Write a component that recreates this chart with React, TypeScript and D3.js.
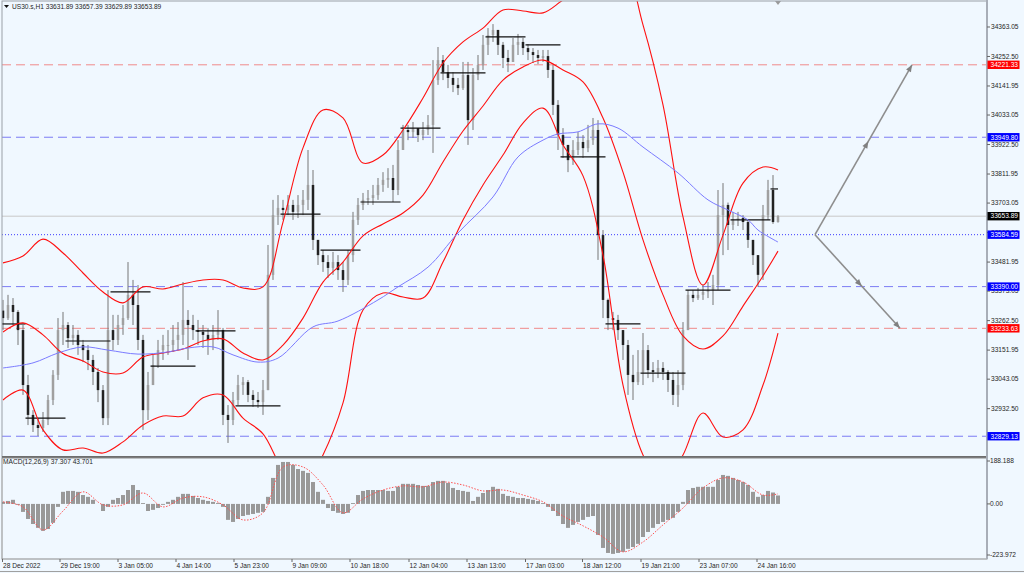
import React, { useEffect, useRef } from 'react';
import * as d3 from 'd3';

// header
const symbolName = 'US30.s,H1';
const lastOHLC = [33631.89, 33657.39, 33629.89, 33653.89];
const macdTitle = 'MACD(12,26,9) 37.307 43.701';

// candles (open of each bar = previous close)
const firstOpen = 33300;
const closes = [
  33272, 33321, 33295, 33227, 33021, 32909, 32871, 32860, 32890, 32965,
  33059, 33227, 33246, 33197, 33209, 33171, 33152, 33115, 33070, 33002,
  32897, 33227, 33190, 33246, 33272, 33359, 33321, 33190, 32927, 33021,
  33096, 33152, 33171, 33171, 33190, 33209, 33265, 33246, 33227, 33220,
  33209, 33190, 33209, 33227, 32909, 32890, 32965, 33021, 33032, 32984,
  32965, 32957, 33002, 33434, 33658, 33685, 33677, 33696, 33670, 33696,
  33715, 33771, 33565, 33508, 33482, 33460, 33482, 33452, 33415, 33508,
  33640, 33696, 33715, 33722, 33733, 33771, 33790, 33797, 33752, 33902,
  33977, 33969, 33984, 33958, 33977, 33996, 34164, 34239, 34194, 34172,
  34146, 34134, 34183, 34014, 34183, 34221, 34296, 34333, 34352, 34296,
  34247, 34232, 34296, 34307, 34284, 34269, 34258, 34247, 34254, 34202,
  34071, 33958, 33921, 33864, 33902, 33932, 33909, 33939, 33977, 33583,
  33340, 33272, 33265, 33227, 33171, 33059, 33032, 33070, 33152, 33077,
  33070, 33085, 33070, 33040, 32984, 33021, 33227, 33359, 33347, 33359,
  33370, 33377, 33396, 33658, 33696, 33621, 33640, 33647, 33632, 33565,
  33508, 33434, 33658, 33752, 33631.89, 33653.89,
];
const highs = [
  33340, 33359, 33347, 33302, 33246, 33059, 32927, 32897, 32920, 32984,
  33077, 33272, 33295, 33257, 33246, 33227, 33190, 33171, 33134, 33085,
  33021, 33377, 33284, 33284, 33321, 33482, 33415, 33396, 33209, 33070,
  33134, 33190, 33209, 33227, 33246, 33257, 33407, 33302, 33284, 33265,
  33246, 33235, 33246, 33302, 33235, 32946, 32995, 33059, 33051, 33040,
  33002, 32995, 33040, 33546, 33715, 33733, 33715, 33733, 33715, 33733,
  33752, 33902, 33827, 33565, 33527, 33508, 33520, 33508, 33482, 33527,
  33670, 33722, 33741, 33752, 33771, 33797, 33819, 33834, 33846, 33939,
  33996, 33996, 34007, 33984, 34007, 34033, 34239, 34288, 34258, 34221,
  34194, 34172, 34232, 34232, 34209, 34258, 34333, 34359, 34374, 34352,
  34307, 34277, 34322, 34337, 34322, 34299, 34284, 34277, 34277, 34277,
  34221, 34089, 33984, 33921, 33939, 33969, 33958, 33996, 34022, 34014,
  33602, 33345, 33295, 33284, 33227, 33190, 33134, 33152, 33216, 33171,
  33107, 33115, 33107, 33077, 33070, 33077, 33257, 33377, 33377, 33385,
  33396, 33407, 33434, 33752, 33778, 33705, 33670, 33670, 33658, 33640,
  33565, 33508, 33696, 33790, 33808, 33657.39,
];
const lows = [
  33227, 33265, 33246, 33171, 32984, 32871, 32845, 32830, 32845, 32871,
  32946, 33040, 33171, 33160, 33171, 33134, 33107, 33077, 33021, 32957,
  32871, 32871, 33152, 33171, 33209, 33265, 33246, 33152, 32853, 32890,
  33021, 33085, 33115, 33134, 33145, 33152, 33171, 33115, 33190, 33171,
  33160, 33134, 33152, 33190, 32871, 32804, 32871, 32946, 32984, 32957,
  32939, 32935, 32909, 33002, 33415, 33621, 33640, 33658, 33640, 33647,
  33658, 33677, 33527, 33471, 33445, 33422, 33434, 33415, 33370, 33396,
  33482, 33621, 33677, 33696, 33696, 33715, 33745, 33760, 33707, 33733,
  33902, 33939, 33947, 33932, 33939, 33958, 33891, 34146, 34164, 34134,
  34119, 34108, 34127, 33921, 33977, 34164, 34202, 34258, 34307, 34258,
  34209, 34194, 34232, 34258, 34258, 34239, 34228, 34224, 34232, 34172,
  34033, 33902, 33872, 33819, 33846, 33883, 33872, 33894, 33921, 33490,
  33272, 33227, 33227, 33190, 33115, 32984, 32965, 33021, 33021, 33047,
  33032, 33047, 33040, 32995, 32946, 32939, 33002, 33227, 33332, 33340,
  33340, 33347, 33321, 33377, 33508, 33527, 33602, 33617, 33602, 33535,
  33471, 33389, 33415, 33640, 33625, 33629.89,
];

// Bollinger bands, read every 4 bars
const bandBars = [
  0, 4, 8, 12, 16, 20, 24, 28, 32, 36, 40, 44, 48, 52, 56, 60, 64, 68, 72, 76,
  80, 84, 88, 92, 96, 100, 104, 108, 112, 116, 120, 124, 128, 132, 136, 140, 144, 148, 152, 155,
];
const bbUpper = [
  33479, 33505, 33568, 33516, 33441, 33370, 33329, 33389, 33381, 33400,
  33415, 33415, 33385, 33389, 33632, 33910, 34052, 34022, 33853, 33883,
  33977, 34097, 34228, 34307, 34359, 34427, 34423, 34416, 34464, 34509,
  34539, 34595, 34371, 34071, 33651, 33396, 33583, 33778, 33838, 33827,
];
const bbMiddle = [
  33220, 33254, 33209, 33139, 33111, 33070, 33066, 33126, 33141, 33156,
  33186, 33194, 33141, 33115, 33171, 33272, 33407, 33482, 33580, 33625,
  33666, 33733, 33857, 33973, 34067, 34164, 34213, 34239, 34202, 34157,
  34022, 33819, 33565, 33359, 33205, 33156, 33205, 33317, 33430, 33523,
];
const bbLower = [
  32965, 33002, 32853, 32778, 32785, 32766, 32808, 32871, 32905, 32905,
  32973, 32984, 32897, 32838, 32703, 32635, 32759, 32954, 33302, 33366,
  33351, 33347, 33482, 33640, 33771, 33883, 34003, 34059, 33921, 33805,
  33508, 33021, 32759, 32646, 32759, 32916, 32826, 32853, 33021, 33216,
];

// slow moving average (blue)
const maBars = [0, 6, 11, 16, 21, 27, 33, 37, 42, 46, 51, 55, 62, 67, 75, 79, 85, 91, 98, 103, 108, 111, 115, 119, 123, 128, 135, 141, 145, 149, 151, 155];
const maValues = [33085, 33104, 33141, 33164, 33152, 33137, 33145, 33160, 33164, 33134, 33107, 33122, 33239, 33261, 33340, 33389, 33463, 33591, 33726, 33876, 33939, 33962, 33970, 34000, 33984, 33913, 33816, 33715, 33677, 33640, 33602, 33557];

// MACD histogram per bar and signal read every 4 bars
const macdHist = [
  9, 13, 18, -4, -35, -66, -88, -105, -118, -110,
  -83, -13, 53, 57, 57, 53, 39, 31, 18, 0,
  -31, -13, 18, 26, 39, 61, 83, 61, 4, -31,
  -26, -18, -4, 9, 18, 31, 44, 44, 35, 26,
  18, 13, 9, 4, -13, -70, -79, -66, -53, -48,
  -44, -39, -35, 31, 114, 171, 184, 184, 171, 153,
  145, 136, 96, 53, 18, -18, -31, -39, -44, -39,
  4, 39, 57, 61, 61, 61, 61, 57, 57, 75,
  88, 88, 88, 83, 79, 79, 96, 101, 101, 92,
  70, 61, 57, 53, 13, 31, 48, 61, 75, 66,
  44, 35, 31, 26, 26, 22, 18, 13, 4, -13,
  -31, -53, -88, -105, -92, -79, -70, -57, -53, -136,
  -193, -215, -219, -215, -210, -197, -189, -175, -145, -123,
  -105, -88, -79, -70, -61, -35, 9, 61, 70, 75,
  75, 75, 75, 105, 127, 123, 114, 105, 96, 83,
  53, 31, 39, 57, 50, 37,
];
const signalValues = [
  9, -13, -114, -31, 53, -4, -4, 48, -13, 26,
  31, -4, -70, -39, 162, 162, 83, -39, 22, 61,
  79, 75, 96, 83, 57, 61, 39, 9, -53, -96,
  -145, -210, -167, -92, -18, 70, 114, 96, 39, 44,
];

// daily open segments
const dayStartBars = [0, 5, 13, 22, 30, 39, 47, 56, 64, 72, 80, 88, 97, 105, 112, 121, 128, 137, 146, 154];
const dayOpens = [33250, 32897, 33186, 33370, 33092, 33224, 32943, 33662, 33527, 33707, 33984, 34191, 34326, 34296, 33876, 33250, 33066, 33377, 33640, 33756];

// horizontal levels
const levelPrices = [34221.33, 33949.8, 33584.59, 33390.0, 33233.63, 32829.13];
const levelColors = ['red', 'blue', 'blue', 'blue', 'red', 'blue'];
const levelStyles = ['dash', 'dash', 'dot', 'dash', 'dash', 'dash'];
const bidPrice = 33653.89;

// projection arrows
const arrowFrom = { bar: 162.4, price: 33584.59 };
const arrowTargets = [
  { bar: 181.8, price: 34221.33 },
  { bar: 179.4, price: 33233.63 },
];

// axes
const priceTicks = [34363.05, 34252.5, 34141.95, 34033.05, 33922.5, 33811.95, 33703.05, 33592.5, 33481.95, 33373.05, 33262.5, 33151.95, 33043.05, 32932.5];
const macdTicks = [188.188, 0, -223.972];
const timeTickBars = [-0.2, 11.4, 23, 34.6, 46.2, 57.8, 69.4, 81.2, 92.8, 104.5, 115.9, 127.6, 139.2, 150.8];
const timeTickLabels = ['28 Dec 2022', '29 Dec 19:00', '3 Jan 05:00', '4 Jan 14:00', '5 Jan 23:00', '9 Jan 09:00', '10 Jan 18:00', '12 Jan 04:00', '13 Jan 13:00', '17 Jan 03:00', '18 Jan 12:00', '19 Jan 21:00', '23 Jan 07:00', '24 Jan 16:00'];

const width = 1024,
      height = 573;
const axisX = 987;
const font = '"Liberation Sans", Arial, sans-serif';

const App = () => {
  const svgRef = useRef<SVGSVGElement>(null);

  useEffect(() => {
    const svg = d3.select(svgRef.current);
    svg.selectAll('*').remove();

    const x = d3.scaleLinear().domain([0, 155]).range([3, 778]);
    const y = d3.scaleLinear().domain([32751.3, 34464.2]).range([457, 0]);
    const ym = d3.scaleLinear().domain([-223.972, 188.188]).range([555, 461]);

    svg.append('rect').attr('width', width).attr('height', height).attr('fill', '#f0f8ff');

    const defs = svg.append('defs');
    defs.append('clipPath').attr('id', 'clip-main')
      .append('rect').attr('x', 2).attr('y', 1).attr('width', axisX - 2).attr('height', 456);
    defs.append('clipPath').attr('id', 'clip-macd')
      .append('rect').attr('x', 2).attr('y', 458).attr('width', axisX - 2).attr('height', 101);

    const main = svg.append('g').attr('clip-path', 'url(#clip-main)');

    // levels
    const levelStroke = (c: string, s: string) =>
      s === 'dot' ? '#3a3aff' : c === 'red' ? '#f08a8a' : '#7c7cf4';
    levelPrices.forEach((p, i) => {
      main.append('line')
        .attr('x1', 2).attr('x2', axisX)
        .attr('y1', y(p)).attr('y2', y(p))
        .attr('stroke', levelStroke(levelColors[i], levelStyles[i]))
        .attr('stroke-width', 1)
        .attr('stroke-dasharray', levelStyles[i] === 'dot' ? '1,2' : '9,5');
    });
    main.append('line')
      .attr('x1', 2).attr('x2', axisX)
      .attr('y1', y(bidPrice)).attr('y2', y(bidPrice))
      .attr('stroke', '#c8c8c8').attr('stroke-width', 1);

    // candles
    const bars = closes.map((c, i) => {
      const o = i === 0 ? firstOpen : closes[i - 1];
      return { i, o, c, h: Math.max(highs[i], o, c), l: Math.min(lows[i], o, c) };
    });
    const cg = main.append('g');
    cg.selectAll('line.wick').data(bars).enter().append('line')
      .attr('x1', d => x(d.i)).attr('x2', d => x(d.i))
      .attr('y1', d => y(d.h)).attr('y2', d => y(d.l))
      .attr('stroke', '#777').attr('stroke-width', 1);
    cg.selectAll('rect.body').data(bars).enter().append('rect')
      .attr('x', d => x(d.i) - 1.25).attr('width', 2.5)
      .attr('y', d => y(Math.max(d.o, d.c)))
      .attr('height', d => Math.max(1, Math.abs(y(d.o) - y(d.c))))
      .attr('fill', d => (d.c >= d.o ? '#a0a0a0' : '#222'));

    // daily open levels
    dayStartBars.forEach((b, k) => {
      const end = k < dayStartBars.length - 1 ? dayStartBars[k + 1] : 155.5;
      main.append('line')
        .attr('x1', x(b - 0.5)).attr('x2', x(end - 0.5))
        .attr('y1', y(dayOpens[k])).attr('y2', y(dayOpens[k]))
        .attr('stroke', '#111').attr('stroke-width', 1.2);
    });

    // bollinger bands
    const band = d3.line<number>()
      .x((_, i) => x(bandBars[i]))
      .y(d => y(d))
      .curve(d3.curveCatmullRom.alpha(0.5));
    [bbUpper, bbMiddle, bbLower].forEach(arr => {
      main.append('path').attr('d', band(arr)).attr('fill', 'none')
        .attr('stroke', '#ff1010').attr('stroke-width', 1.1);
    });

    // moving average
    const ma = d3.line<number>()
      .x((_, i) => x(maBars[i]))
      .y(d => y(d))
      .curve(d3.curveCatmullRom.alpha(0.5));
    main.append('path').attr('d', ma(maValues)).attr('fill', 'none')
      .attr('stroke', '#7b7bff').attr('stroke-width', 1);

    // arrows
    const ax0 = x(arrowFrom.bar), ay0 = y(arrowFrom.price);
    const head = (x1: number, y1: number, x2: number, y2: number, s: number) => {
      const a = Math.atan2(y2 - y1, x2 - x1);
      const bx = x2 - s * Math.cos(a), by = y2 - s * Math.sin(a);
      const w = s * 0.4;
      return `M${x2},${y2}L${bx + w * Math.sin(a)},${by - w * Math.cos(a)}L${bx - w * Math.sin(a)},${by + w * Math.cos(a)}Z`;
    };
    arrowTargets.forEach(t => {
      const tx = x(t.bar), ty = y(t.price);
      main.append('line').attr('x1', ax0).attr('y1', ay0).attr('x2', tx).attr('y2', ty)
        .attr('stroke', '#8e8e8e').attr('stroke-width', 1.6);
      const mx = ax0 + (tx - ax0) * 0.55, my = ay0 + (ty - ay0) * 0.55;
      main.append('path').attr('d', head(ax0, ay0, mx, my, 7)).attr('fill', '#808080');
      main.append('path').attr('d', head(ax0, ay0, tx, ty, 7)).attr('fill', '#808080');
    });

    // chart shift marker
    svg.append('path').attr('d', `M${x(155) - 3},1L${x(155) + 3},1L${x(155)},5Z`).attr('fill', '#9a9a9a');

    // MACD
    const mg = svg.append('g').attr('clip-path', 'url(#clip-macd)');
    mg.selectAll('rect').data(macdHist).enter().append('rect')
      .attr('x', (_, i) => x(i) - 2).attr('width', 4)
      .attr('y', d => Math.min(ym(0), ym(d)))
      .attr('height', d => Math.abs(ym(d) - ym(0)))
      .attr('fill', '#999');
    const sig = d3.line<number>()
      .x((_, i) => x(bandBars[i]))
      .y(d => ym(d))
      .curve(d3.curveCatmullRom.alpha(0.5));
    mg.append('path').attr('d', sig(signalValues)).attr('fill', 'none')
      .attr('stroke', '#ff5050').attr('stroke-width', 1).attr('stroke-dasharray', '1.5,1.5');

    // frames
    const frame = svg.append('g').attr('fill', 'none');
    frame.append('rect').attr('x', 2).attr('y', 1).attr('width', axisX - 2).attr('height', 456)
      .attr('stroke', '#9aa0a8').attr('stroke-width', 1);
    frame.append('line').attr('x1', 2).attr('x2', axisX).attr('y1', 457).attr('y2', 457)
      .attr('stroke', '#6e6e6e').attr('stroke-width', 2);
    frame.append('rect').attr('x', 2).attr('y', 458).attr('width', axisX - 2).attr('height', 101)
      .attr('stroke', '#8a8a8a').attr('stroke-width', 1);
    frame.append('line').attr('x1', 0).attr('x2', width).attr('y1', 571.5).attr('y2', 571.5)
      .attr('stroke', '#a0a0a0').attr('stroke-width', 1);
    frame.append('line').attr('x1', axisX).attr('x2', axisX).attr('y1', 0).attr('y2', 559)
      .attr('stroke', '#a8aeb8').attr('stroke-width', 2);

    const txt = svg.append('g').attr('font-family', font).attr('font-size', 6.6).attr('fill', '#262626');

    // price axis
    priceTicks.forEach(p => {
      txt.append('line').attr('x1', axisX).attr('x2', axisX + 3).attr('y1', y(p)).attr('y2', y(p))
        .attr('stroke', '#666');
      txt.append('text').attr('x', 991).attr('y', y(p)).attr('dy', '0.35em').text(p.toFixed(2));
    });
    macdTicks.forEach(v => {
      txt.append('line').attr('x1', axisX).attr('x2', axisX + 3).attr('y1', ym(v)).attr('y2', ym(v))
        .attr('stroke', '#666');
      txt.append('text').attr('x', 990).attr('y', ym(v)).attr('dy', '0.35em')
        .text(v === 0 ? '0.00' : v.toFixed(3));
    });

    // price labels
    const tag = (p: number, bg: string) => {
      txt.append('rect').attr('x', axisX + 0.5).attr('y', y(p) - 4.2).attr('width', 32).attr('height', 8.4)
        .attr('fill', bg);
      txt.append('text').attr('x', 990.5).attr('y', y(p)).attr('dy', '0.35em').attr('fill', '#fff').text(p.toFixed(2));
    };
    levelPrices.forEach((p, i) => tag(p, levelColors[i] === 'red' ? '#ff0000' : '#0000ff'));
    tag(bidPrice, '#000');

    // time axis
    timeTickBars.forEach((b, i) => {
      const tx = Math.max(2.5, x(b));
      txt.append('line').attr('x1', tx).attr('x2', tx).attr('y1', 559).attr('y2', 562).attr('stroke', '#666');
      txt.append('text').attr('x', tx + 0.5).attr('y', 567).attr('dy', '0.1em').text(timeTickLabels[i]);
    });

    // titles
    txt.append('path').attr('d', 'M4,5L9,5L6.5,8Z').attr('fill', '#111');
    txt.append('text').attr('x', 12).attr('y', 9).text(`${symbolName}  ${lastOHLC.map(v => v.toFixed(2)).join(' ')}`);
    txt.append('text').attr('x', 3).attr('y', 464).text(macdTitle);
  }, []);

  return (
    <div style={{ position: 'fixed', left: 0, top: 0, width, height }}>
      <svg ref={svgRef} width={width} height={height} style={{ display: 'block' }} />
    </div>
  );
};

export default App;
